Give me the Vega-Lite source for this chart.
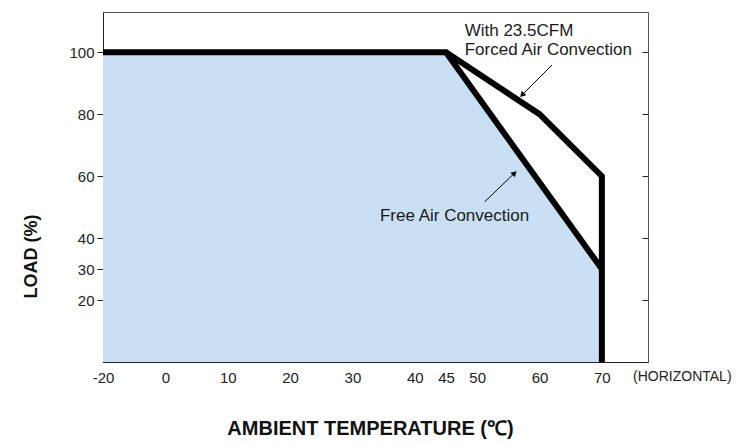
{
  "$schema": "https://vega.github.io/schema/vega-lite/v6.json",
  "width": 545,
  "height": 350,
  "autosize": "none",
  "padding": {"left": 103, "top": 12, "right": 91, "bottom": 83},
  "background": "white",
  "config": {
    "font": "Liberation Sans",
    "view": {"stroke": "#555", "strokeWidth": 1},
    "axis": {"grid": false, "labelFont": "Liberation Sans", "labelColor": "#222", "labelFontSize": 15, "tickColor": "#222", "domainColor": "#222", "titleColor": "#111", "titleFont": "Liberation Sans"}
  },
  "datasets": {
    "free": [{"x": -20, "y": 100}, {"x": 45, "y": 100}, {"x": 70, "y": 30}],
    "forced": [{"x": 45, "y": 100, "i": 1}, {"x": 60, "y": 80, "i": 2}, {"x": 70, "y": 60, "i": 3}, {"x": 70, "y": 0, "i": 4}],
    "arrows": [{"x": 62.0, "y": 95.9, "x2": 57.2, "y2": 86.2, "a": 225}, {"x": 51.2, "y": 51.7, "x2": 56.0, "y2": 61.0, "a": 45}],
    "notes": [{"x": 48.0, "y": 106.9, "t": "With 23.5CFM"}, {"x": 48.0, "y": 100.6, "t": "Forced Air Convection"}, {"x": 34.4, "y": 47.1, "t": "Free Air Convection"}],
    "hz": [{"x": 75.0, "y": 0, "t": "(HORIZONTAL)"}]
  },
  "encoding": {
    "x": {
      "field": "x", "type": "quantitative",
      "scale": {"domain": [-20, 0, 77.4], "range": [0, 62.4, 545], "nice": false, "zero": false},
      "axis": {
        "orient": "bottom", "values": [-20, 0, 10, 20, 30, 40, 45, 50, 60, 70],
        "labelExpr": "replace(datum.label, '−', '-')", "labelFlush": false, "labelOverlap": false,
        "tickSize": -6, "labelPadding": 14, "domain": true,
        "title": "AMBIENT TEMPERATURE (℃)", "titleFontSize": 20, "titleFontWeight": "bold",
        "titleX": 267, "titleY": 66, "titleBaseline": "middle", "titleAnchor": "start", "titleAlign": "center"
      }
    }
  },
  "layer": [
    {
      "data": {"name": "free"},
      "mark": {"type": "area", "color": "#c9dff3", "interpolate": "linear", "opacity": 1},
      "encoding": {
        "y": {
          "field": "y", "type": "quantitative",
          "scale": {"domain": [0, 113], "nice": false, "zero": true},
          "axis": {
            "orient": "left", "values": [20, 30, 40, 60, 80, 100], "tickSize": 6, "labelPadding": 3, "domain": true,
            "title": "LOAD (%)", "titleFontSize": 18, "titleFontWeight": "bold",
            "titleX": -72, "titleY": 244, "titleAngle": -90, "titleAlign": "center", "titleBaseline": "middle"
          }
        }
      }
    },
    {
      "data": {"name": "free"},
      "mark": {"type": "line", "color": "black", "strokeWidth": 6, "strokeJoin": "miter", "strokeCap": "butt"},
      "encoding": {
        "y": {"field": "y", "type": "quantitative", "axis": null}
      }
    },
    {
      "data": {"name": "forced"},
      "mark": {"type": "line", "color": "black", "strokeWidth": 6, "strokeJoin": "miter", "strokeCap": "butt"},
      "encoding": {
        "y": {
          "field": "y", "type": "quantitative",
          "axis": {"orient": "right", "values": [20, 40, 60, 80, 100], "tickSize": -6, "labels": false, "domain": false, "title": null}
        },
        "order": {"field": "i"}
      }
    },
    {
      "data": {"name": "arrows"},
      "mark": {"type": "rule", "color": "black", "strokeWidth": 1},
      "encoding": {
        "y": {"field": "y", "type": "quantitative", "axis": null},
        "x2": {"field": "x2"},
        "y2": {"field": "y2"}
      }
    },
    {
      "data": {"name": "arrows"},
      "mark": {"type": "point", "shape": "triangle-up", "filled": true, "color": "black", "size": 40, "opacity": 1},
      "encoding": {
        "x": {"field": "x2", "type": "quantitative"},
        "y": {"field": "y2", "type": "quantitative", "axis": null},
        "angle": {"field": "a", "type": "quantitative", "scale": null}
      }
    },
    {
      "data": {"name": "notes"},
      "mark": {"type": "text", "align": "left", "baseline": "middle", "fontSize": 17, "color": "#1a1a1a"},
      "encoding": {
        "y": {"field": "y", "type": "quantitative", "axis": null},
        "text": {"field": "t"}
      }
    },
    {
      "data": {"name": "hz"},
      "mark": {"type": "text", "align": "left", "baseline": "middle", "dy": 15, "fontSize": 14, "color": "#222", "clip": false},
      "encoding": {
        "y": {"field": "y", "type": "quantitative", "axis": null},
        "text": {"field": "t"}
      }
    }
  ],
  "resolve": {"scale": {"y": "shared"}, "axis": {"y": "independent"}}
}
